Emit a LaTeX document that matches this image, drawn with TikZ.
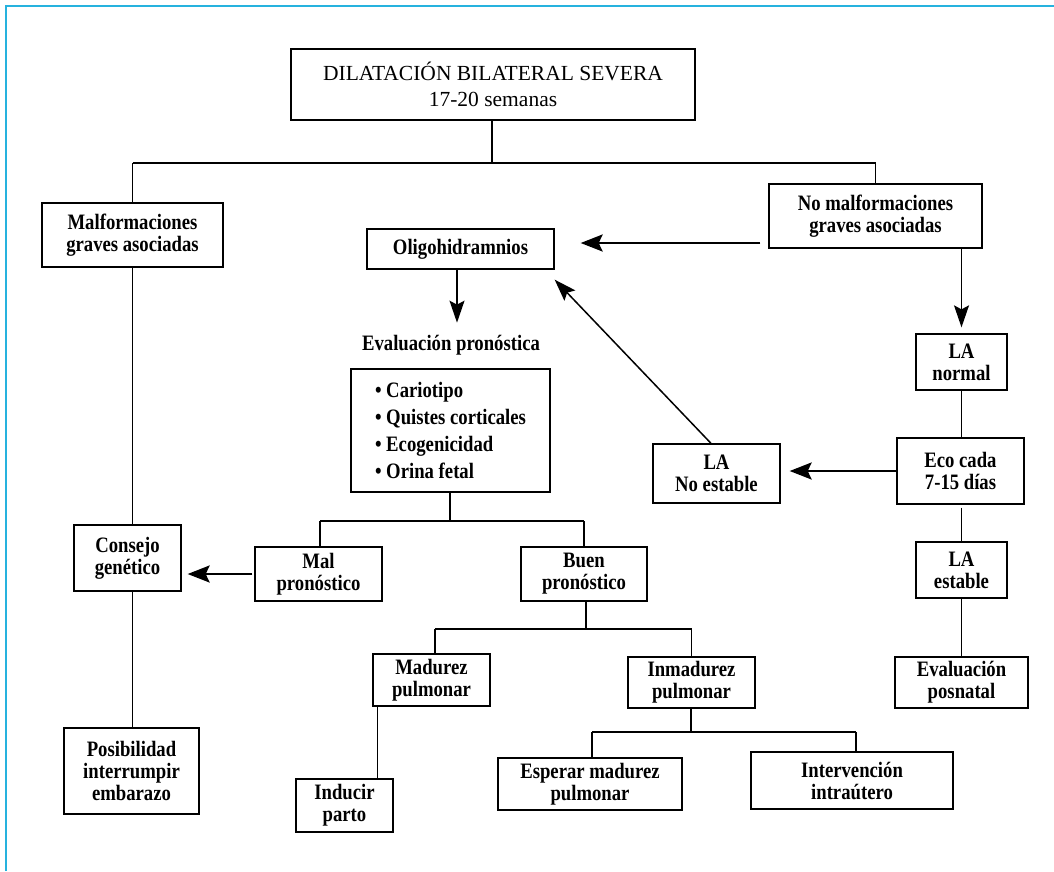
\documentclass[tikz,border=0pt]{standalone}
\usepackage{fontspec}
\setmainfont{Liberation Serif}[FakeStretch=0.85]
\newfontfamily\topfont{Liberation Serif}
\usetikzlibrary{arrows.meta}
\definecolor{framecyan}{RGB}{38,178,222}

\begin{document}
\begin{tikzpicture}[x=1pt, y=-1pt,
    box/.style={draw, line width=1.3pt, align=center, inner sep=0pt, font=\fontsize{22}{22}\selectfont\bfseries},
    link/.style={line width=1.1pt},
    bar/.style={line width=2.3pt},
    arr/.style={line width=1.5pt, -{Stealth[length=22pt, width=15pt, inset=4pt]}},
    bigarr/.style={line width=2.6pt, -{Stealth[length=22pt, width=17pt, inset=4pt]}}]
\useasboundingbox (0,0) rectangle (1054,871);
\draw[framecyan, line width=2pt] (6,871) -- (6,6) -- (1054,6);

% boxes
\node[box, minimum width=404pt, minimum height=71pt, font=\fontsize{21.5}{26}\selectfont\topfont] (top) at (493,84.5) {DILATACIÓN BILATERAL SEVERA\\17-20 semanas};
\node[box, minimum width=181pt, minimum height=64pt] (malf) at (132.5,235) {Malformaciones\\graves asociadas};
\node[box, minimum width=213pt, minimum height=64pt] (nomalf) at (875.5,216) {No malformaciones\\graves asociadas};
\node[box, minimum width=187pt, minimum height=40pt] (oligo) at (460.5,249) {Oligohidramnios};
\node[font=\fontsize{22}{22}\selectfont\bfseries, inner sep=0pt] (evalpron) at (451,345) {Evaluación pronóstica};
\node[box, minimum width=199pt, minimum height=123pt, align=left, font=\fontsize{22}{27}\selectfont\bfseries] (bullets) at (450.5,430.5) {• Cariotipo\\• Quistes corticales\\• Ecogenicidad\\• Orina fetal};
\node[box, minimum width=91pt, minimum height=56pt] (lanormal) at (961.5,362) {LA\\normal};
\node[box, minimum width=127pt, minimum height=66pt] (eco) at (960.5,471) {Eco cada\\7-15 días};
\node[box, minimum width=127pt, minimum height=59pt] (lanoest) at (716.5,473.5) {LA\\No estable};
\node[box, minimum width=91pt, minimum height=56pt] (laest) at (961.5,570) {LA\\estable};
\node[box, minimum width=133pt, minimum height=51pt] (evalpos) at (961.5,682.5) {Evaluación\\posnatal};
\node[box, minimum width=107pt, minimum height=66pt] (consejo) at (127.5,558) {Consejo\\genético};
\node[box, minimum width=127pt, minimum height=54pt] (mal) at (318.5,574) {Mal\\pronóstico};
\node[box, minimum width=126pt, minimum height=54pt] (buen) at (584,574) {Buen\\pronóstico};
\node[box, minimum width=117pt, minimum height=52pt] (madurez) at (431.5,680) {Madurez\\pulmonar};
\node[box, minimum width=127pt, minimum height=51pt] (inmadurez) at (691.5,682.5) {Inmadurez\\pulmonar};
\node[box, minimum width=97pt, minimum height=53pt] (inducir) at (344.5,805.5) {Inducir\\parto};
\node[box, minimum width=184pt, minimum height=52pt] (esperar) at (590,784) {Esperar madurez\\pulmonar};
\node[box, minimum width=202pt, minimum height=57pt] (interv) at (852,780.5) {Intervención\\intraútero};
\node[box, minimum width=135pt, minimum height=86pt] (posib) at (131.5,771) {Posibilidad\\interrumpir\\embarazo};

% branch bars
\coordinate (b1) at (492,163);
\coordinate (b2) at (450,521);
\coordinate (b3) at (586,629);
\coordinate (b4) at (691,732);
\draw[link] (top.south -| b1) -- (b1);
\draw[bar] (malf.north |- b1) -- (nomalf.north |- b1);
\draw[link] (malf.north |- b1) -- (malf.north);
\draw[link] (nomalf.north |- b1) -- (nomalf.north);
\draw[link] (bullets.south -| b2) -- (b2);
\draw[bar] ([xshift=1.5pt]mal.north |- b2) -- (buen.north |- b2);
\draw[link] ([xshift=1.5pt]mal.north |- b2) -- ([xshift=1.5pt]mal.north);
\draw[link] (buen.north |- b2) -- (buen.north);
\draw[link] (buen.south -| b3) -- (b3);
\draw[bar] ([xshift=3.5pt]madurez.north |- b3) -- (inmadurez.north |- b3);
\draw[link] ([xshift=3.5pt]madurez.north |- b3) -- ([xshift=3.5pt]madurez.north);
\draw[link] (inmadurez.north |- b3) -- (inmadurez.north);
\draw[link] (inmadurez.south -| b4) -- (b4);
\draw[bar] ([xshift=2pt]esperar.north |- b4) -- ([xshift=4pt]interv.north |- b4);
\draw[link] ([xshift=2pt]esperar.north |- b4) -- ([xshift=2pt]esperar.north);
\draw[link] ([xshift=4pt]interv.north |- b4) -- ([xshift=4pt]interv.north);

% plain links
\draw[link] (malf.south) -- (malf.south |- consejo.north);
\draw[link] (malf.south |- consejo.south) -- (malf.south |- posib.north);
\draw[link] (lanormal.south) -- (lanormal.south |- eco.north);
\draw[link] ([yshift=-3pt]eco.south -| laest.north) -- (laest.north);
\draw[link] (laest.south) -- (laest.south |- evalpos.north);
\draw[link] ([xshift=5pt]madurez.south west) -- ([xshift=5pt]madurez.south west |- inducir.north);

% arrows
\draw[bigarr] ([xshift=-8pt, yshift=-27pt]nomalf.west) -- ([xshift=26pt, yshift=6pt]oligo.east);
\draw[arr] ([xshift=-3.5pt]oligo.south) -- ++(0,53);
\draw[arr] ([xshift=-5.5pt]lanoest.north) -- ([yshift=-10pt]oligo.south east);
\draw[arr] (nomalf.south -| lanormal.north) -- ([yshift=6pt]lanormal.north);
\draw[bigarr] (eco.west) -- ([xshift=9pt]lanoest.east |- eco.west);
\draw[bigarr] ([xshift=-2pt]mal.west) -- ([xshift=6pt]consejo.east |- mal.west);
\end{tikzpicture}
\end{document}
